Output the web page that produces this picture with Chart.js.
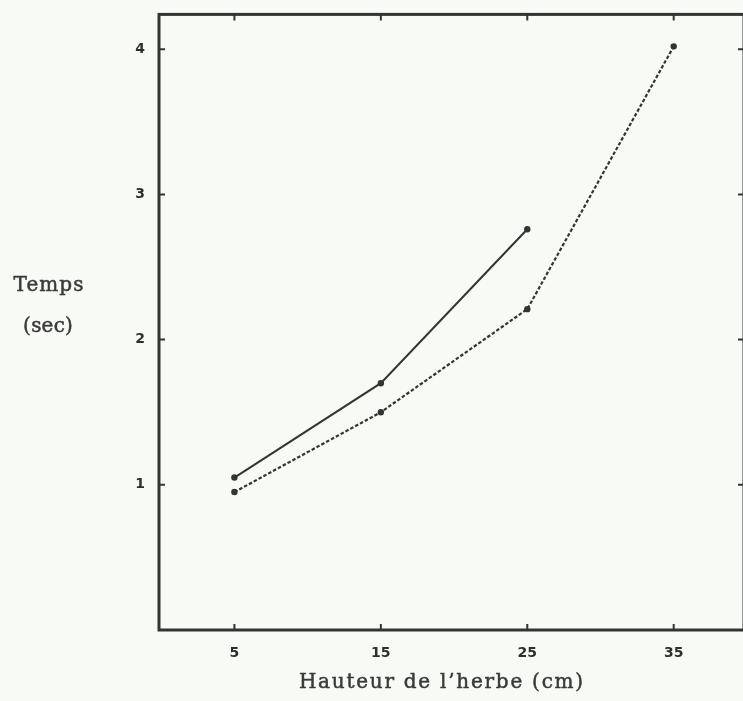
<!DOCTYPE html>
<html>
<head>
<meta charset="utf-8">
<script src="https://cdn.jsdelivr.net/npm/chart.js@4"></script>
<style>
  html, body { margin: 0; padding: 0; background: #f8fbf5; overflow: hidden; }
  #wrap { position: relative; width: 748px; height: 701px; }
</style>
</head>
<body>
<div id="wrap"><canvas id="grassChart"></canvas></div>
<script>
// Hauteur de l'herbe vs temps
var hauteurs = [5, 15, 25, 35];
var tempsA = [1.05, 1.70, 2.76];          // trait plein
var tempsB = [0.95, 1.50, 2.21, 4.02];    // tirets
var xTicks = [5, 15, 25, 35];
var yTicks = [1, 2, 3, 4];
var xTitle = 'Hauteur de l\u2019herbe (cm)';
var yTitle = ['Temps', '(sec)'];

var ink = '#343434';
var textInk = '#3a3a3a';

function pts(vals) {
    return vals.map(function (v, i) { return { x: hauteurs[i], y: v }; });
}

// text stretched to a given width (the scan uses a wide serif)
function wideText(c, txt, cx, cy, width) {
    c.letterSpacing = '0px';
    var w = c.measureText(txt).width;
    var sp = Math.max(0, (width - w) / txt.length);
    c.letterSpacing = sp + 'px';
    c.fillText(txt, cx + sp / 2, cy);
    c.strokeText(txt, cx + sp / 2, cy);
    c.letterSpacing = '0px';
}

// cadre + graduations vers l'intérieur, titres
var framePlugin = {
    id: 'frame',
    afterDraw: function (chart) {
        var c = chart.ctx, a = chart.chartArea;
        var xs = chart.scales.x, ys = chart.scales.y;
        c.save();
        c.strokeStyle = ink;
        c.lineWidth = 3;
        c.strokeRect(a.left, a.top, a.right - a.left, a.bottom - a.top);
        c.lineWidth = 2;
        c.beginPath();
        xTicks.forEach(function (v) {
            var px = xs.getPixelForValue(v);
            c.moveTo(px, a.bottom); c.lineTo(px, a.bottom - 6);
            c.moveTo(px, a.top); c.lineTo(px, a.top + 6);
        });
        yTicks.forEach(function (v) {
            var py = ys.getPixelForValue(v);
            c.moveTo(a.left, py); c.lineTo(a.left + 6, py);
            c.moveTo(a.right, py); c.lineTo(a.right - 6, py);
        });
        c.stroke();

        c.fillStyle = textInk;
        c.strokeStyle = textInk;
        c.lineWidth = 0.5;
        c.textAlign = 'center';
        c.textBaseline = 'alphabetic';
        c.font = '20px "DejaVu Serif"';
        wideText(c, yTitle[0], 48.5, 291, 71);
        wideText(c, yTitle[1], 48, 332, 50);
        c.font = '20px "DejaVu Serif"';
        wideText(c, xTitle, 441, 688, 286);
        c.restore();
    }
};

new Chart(document.getElementById('grassChart'), {
    type: 'line',
    data: {
        datasets: [{
            data: pts(tempsA),
            borderColor: ink, borderWidth: 2,
            pointRadius: 3.2, pointBackgroundColor: ink, pointBorderWidth: 0
        }, {
            data: pts(tempsB),
            borderColor: ink, borderWidth: 2.2, borderDash: [3.5, 2],
            pointRadius: 3.2, pointBackgroundColor: ink, pointBorderWidth: 0
        }]
    },
    options: {
        responsive: true, maintainAspectRatio: false, animation: false,
        layout: { padding: { top: 7, right: 3, left: 0, bottom: 0 } },
        plugins: { legend: { display: false }, tooltip: { enabled: false } },
        scales: {
            x: {
                type: 'linear', min: -0.15, max: 39.8,
                afterBuildTicks: function (s) { s.ticks = xTicks.map(function (v) { return { value: v }; }); },
                afterFit: function (s) { s.height = 71; },
                grid: { display: false },
                border: { display: false },
                ticks: { color: '#2e2e2e', padding: 7, font: { family: '"DejaVu Sans"', weight: 'bold', size: 14 } }
            },
            y: {
                min: 0, max: 4.24,
                afterBuildTicks: function (s) { s.ticks = yTicks.map(function (v) { return { value: v }; }); },
                afterFit: function (s) { s.width = 159; },
                grid: { display: false },
                border: { display: false },
                ticks: { color: '#2e2e2e', padding: 6, font: { family: '"DejaVu Sans"', weight: 'bold', size: 14 } }
            }
        }
    },
    plugins: [framePlugin]
});
</script>
</body>
</html>
